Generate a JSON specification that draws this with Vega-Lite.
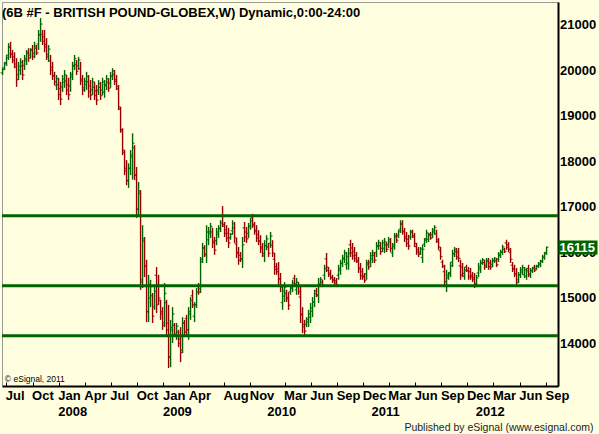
{
  "$schema": "https://vega.github.io/schema/vega-lite/v6.json",
  "width": 556,
  "height": 384,
  "autosize": {"type": "none"},
  "padding": {"left": 2, "top": 2, "right": 41, "bottom": 48},
  "background": "#FFFFE0",
  "config": {"view": {"stroke": "#9A9A9A", "strokeWidth": 1, "fill": "#FFFFE0"}, "font": "Liberation Sans"},
  "title": {"text": "(6B #F - BRITISH POUND-GLOBEX,W) Dynamic,0:00-24:00", "anchor": "start", "frame": "group", "orient": "top", "offset": -28, "baseline": "alphabetic", "fontSize": 13, "fontWeight": "bold", "font": "Liberation Sans", "color": "#000000"},
  "resolve": {"axis": {"y": "independent"}},
  "datasets": {
    "levels": [{"v": 16810}, {"v": 15270}, {"v": 14170}],
    "last": [{"v": 16115}],
    "bars": [
{"d":"2007-06-18","o":19950,"h":20060,"l":19900,"c":20020},
{"d":"2007-06-25","o":20060,"h":20190,"l":20010,"c":20150},
{"d":"2007-07-02","o":20170,"h":20340,"l":20100,"c":20280},
{"d":"2007-07-09","o":20340,"h":20600,"l":20230,"c":20510},
{"d":"2007-07-16","o":20520,"h":20630,"l":20270,"c":20360},
{"d":"2007-07-23","o":20360,"h":20450,"l":20160,"c":20230},
{"d":"2007-07-30","o":20300,"h":20400,"l":20050,"c":20140},
{"d":"2007-08-06","o":20080,"h":20270,"l":19640,"c":19800},
{"d":"2007-08-13","o":19910,"h":20190,"l":19790,"c":20090},
{"d":"2007-08-20","o":20010,"h":20270,"l":19900,"c":20180},
{"d":"2007-08-27","o":20100,"h":20230,"l":19790,"c":19900},
{"d":"2007-09-03","o":20110,"h":20340,"l":20010,"c":20260},
{"d":"2007-09-10","o":20220,"h":20450,"l":20120,"c":20370},
{"d":"2007-09-17","o":20400,"h":20490,"l":20190,"c":20270},
{"d":"2007-09-24","o":20340,"h":20490,"l":20270,"c":20440},
{"d":"2007-10-01","o":20460,"h":20560,"l":20230,"c":20310},
{"d":"2007-10-08","o":20380,"h":20630,"l":20270,"c":20540},
{"d":"2007-10-15","o":20490,"h":20560,"l":20340,"c":20390},
{"d":"2007-10-22","o":20580,"h":20890,"l":20450,"c":20780},
{"d":"2007-10-29","o":20790,"h":21150,"l":20630,"c":21020},
{"d":"2007-11-05","o":20790,"h":20890,"l":20560,"c":20640},
{"d":"2007-11-12","o":20740,"h":20890,"l":20400,"c":20520},
{"d":"2007-11-19","o":20570,"h":20710,"l":20230,"c":20350},
{"d":"2007-11-26","o":20300,"h":20560,"l":20190,"c":20470},
{"d":"2007-12-03","o":20210,"h":20340,"l":19900,"c":20010},
{"d":"2007-12-10","o":20070,"h":20190,"l":19790,"c":19890},
{"d":"2007-12-17","o":19880,"h":19970,"l":19680,"c":19750},
{"d":"2007-12-24","o":19670,"h":19900,"l":19570,"c":19820},
{"d":"2007-12-31","o":19690,"h":19840,"l":19350,"c":19470},
{"d":"2008-01-07","o":19600,"h":19750,"l":19240,"c":19370},
{"d":"2008-01-14","o":19640,"h":19900,"l":19530,"c":19810},
{"d":"2008-01-21","o":19740,"h":20010,"l":19620,"c":19910},
{"d":"2008-01-28","o":19770,"h":19900,"l":19460,"c":19570},
{"d":"2008-02-04","o":19690,"h":19840,"l":19350,"c":19470},
{"d":"2008-02-11","o":19660,"h":19970,"l":19530,"c":19860},
{"d":"2008-02-18","o":19910,"h":20190,"l":19790,"c":20090},
{"d":"2008-02-25","o":20110,"h":20340,"l":20010,"c":20260},
{"d":"2008-03-03","o":20130,"h":20230,"l":19900,"c":19980},
{"d":"2008-03-10","o":20100,"h":20300,"l":20010,"c":20230},
{"d":"2008-03-17","o":20040,"h":20190,"l":19680,"c":19810},
{"d":"2008-03-24","o":19770,"h":19900,"l":19460,"c":19570},
{"d":"2008-03-31","o":19620,"h":19840,"l":19530,"c":19760},
{"d":"2008-04-07","o":19690,"h":19970,"l":19570,"c":19870},
{"d":"2008-04-14","o":19750,"h":19900,"l":19400,"c":19530},
{"d":"2008-04-21","o":19660,"h":19790,"l":19350,"c":19460},
{"d":"2008-04-28","o":19570,"h":19840,"l":19460,"c":19750},
{"d":"2008-05-05","o":19630,"h":19750,"l":19350,"c":19450},
{"d":"2008-05-12","o":19550,"h":19680,"l":19240,"c":19350},
{"d":"2008-05-19","o":19560,"h":19790,"l":19460,"c":19710},
{"d":"2008-05-26","o":19630,"h":19750,"l":19350,"c":19450},
{"d":"2008-06-02","o":19570,"h":19840,"l":19460,"c":19750},
{"d":"2008-06-09","o":19520,"h":19790,"l":19400,"c":19690},
{"d":"2008-06-16","o":19670,"h":19900,"l":19570,"c":19820},
{"d":"2008-06-23","o":19740,"h":19830,"l":19530,"c":19610},
{"d":"2008-06-30","o":19720,"h":19970,"l":19620,"c":19880},
{"d":"2008-07-07","o":19870,"h":20050,"l":19790,"c":19990},
{"d":"2008-07-14","o":19910,"h":20010,"l":19680,"c":19760},
{"d":"2008-07-21","o":19800,"h":19900,"l":19570,"c":19650},
{"d":"2008-07-28","o":19600,"h":19680,"l":19130,"c":19200},
{"d":"2008-08-04","o":19150,"h":19200,"l":18630,"c":18700},
{"d":"2008-08-11","o":18680,"h":18730,"l":18140,"c":18250},
{"d":"2008-08-18","o":18200,"h":18250,"l":17700,"c":17800},
{"d":"2008-08-25","o":17850,"h":18030,"l":17480,"c":17580},
{"d":"2008-09-01","o":17580,"h":17960,"l":17420,"c":17850},
{"d":"2008-09-08","o":17850,"h":18250,"l":17700,"c":18150},
{"d":"2008-09-15","o":18100,"h":18620,"l":17600,"c":18400},
{"d":"2008-09-22","o":18300,"h":18360,"l":17590,"c":17700},
{"d":"2008-09-29","o":17700,"h":17880,"l":16760,"c":16950},
{"d":"2008-10-06","o":16950,"h":17550,"l":16780,"c":17350},
{"d":"2008-10-13","o":17300,"h":17370,"l":15180,"c":15350},
{"d":"2008-10-20","o":15400,"h":16600,"l":15220,"c":16300},
{"d":"2008-10-27","o":16250,"h":16340,"l":15460,"c":15700},
{"d":"2008-11-03","o":15700,"h":15840,"l":14470,"c":14700},
{"d":"2008-11-10","o":14700,"h":15510,"l":14470,"c":15300},
{"d":"2008-11-17","o":15000,"h":15400,"l":14800,"c":15250},
{"d":"2008-11-24","o":15050,"h":15110,"l":14450,"c":14600},
{"d":"2008-12-01","o":14800,"h":15290,"l":14740,"c":15150},
{"d":"2008-12-08","o":15500,"h":15680,"l":14670,"c":14850},
{"d":"2008-12-15","o":15300,"h":15510,"l":14850,"c":15000},
{"d":"2008-12-22","o":14950,"h":14960,"l":14520,"c":14650},
{"d":"2008-12-29","o":14700,"h":14800,"l":14300,"c":14400},
{"d":"2009-01-05","o":14450,"h":15330,"l":14360,"c":15100},
{"d":"2009-01-12","o":14900,"h":14960,"l":14140,"c":14300},
{"d":"2009-01-19","o":14450,"h":14850,"l":13460,"c":13700},
{"d":"2009-01-26","o":13700,"h":14520,"l":13480,"c":14350},
{"d":"2009-02-02","o":14300,"h":14800,"l":14010,"c":14650},
{"d":"2009-02-09","o":14400,"h":14450,"l":14140,"c":14200},
{"d":"2009-02-16","o":14200,"h":14450,"l":14080,"c":14380},
{"d":"2009-02-23","o":14250,"h":14300,"l":13920,"c":14000},
{"d":"2009-03-02","o":14100,"h":14360,"l":13590,"c":13800},
{"d":"2009-03-09","o":13850,"h":14580,"l":13790,"c":14450},
{"d":"2009-03-16","o":14450,"h":14520,"l":14140,"c":14250},
{"d":"2009-03-23","o":14550,"h":14630,"l":14190,"c":14300},
{"d":"2009-03-30","o":14300,"h":14800,"l":14080,"c":14700},
{"d":"2009-04-06","o":14650,"h":15020,"l":14520,"c":14950},
{"d":"2009-04-13","o":15050,"h":15180,"l":14780,"c":14850},
{"d":"2009-04-20","o":14600,"h":14910,"l":14470,"c":14850},
{"d":"2009-04-27","o":14860,"h":15220,"l":14780,"c":15130},
{"d":"2009-05-04","o":15250,"h":15330,"l":15070,"c":15130},
{"d":"2009-05-11","o":15200,"h":15900,"l":15110,"c":15800},
{"d":"2009-05-18","o":15850,"h":16210,"l":15770,"c":16100},
{"d":"2009-05-25","o":16100,"h":16160,"l":15900,"c":15960},
{"d":"2009-06-01","o":15950,"h":16600,"l":15770,"c":16450},
{"d":"2009-06-08","o":16280,"h":16560,"l":16160,"c":16460},
{"d":"2009-06-15","o":16420,"h":16650,"l":16320,"c":16570},
{"d":"2009-06-22","o":16450,"h":16540,"l":16100,"c":16210},
{"d":"2009-06-29","o":16250,"h":16340,"l":15950,"c":16050},
{"d":"2009-07-06","o":16260,"h":16540,"l":16160,"c":16450},
{"d":"2009-07-13","o":16400,"h":16600,"l":16320,"c":16530},
{"d":"2009-07-20","o":16520,"h":16710,"l":16450,"c":16650},
{"d":"2009-07-27","o":16800,"h":17020,"l":16560,"c":16620},
{"d":"2009-08-03","o":16580,"h":16670,"l":16340,"c":16420},
{"d":"2009-08-10","o":16500,"h":16600,"l":16230,"c":16320},
{"d":"2009-08-17","o":16420,"h":16540,"l":16100,"c":16210},
{"d":"2009-08-24","o":16320,"h":16430,"l":16280,"c":16400},
{"d":"2009-08-31","o":16480,"h":16710,"l":16390,"c":16630},
{"d":"2009-09-07","o":16540,"h":16670,"l":16210,"c":16330},
{"d":"2009-09-14","o":16190,"h":16320,"l":15880,"c":15990},
{"d":"2009-09-21","o":16000,"h":16120,"l":15730,"c":15830},
{"d":"2009-09-28","o":15940,"h":16010,"l":15790,"c":15850},
{"d":"2009-10-05","o":15860,"h":16340,"l":15660,"c":16170},
{"d":"2009-10-12","o":16540,"h":16670,"l":16230,"c":16340},
{"d":"2009-10-19","o":16450,"h":16560,"l":16210,"c":16300},
{"d":"2009-10-26","o":16420,"h":16650,"l":16320,"c":16570},
{"d":"2009-11-02","o":16580,"h":16760,"l":16500,"c":16690},
{"d":"2009-11-09","o":16760,"h":16850,"l":16540,"c":16620},
{"d":"2009-11-16","o":16590,"h":16670,"l":16390,"c":16460},
{"d":"2009-11-23","o":16490,"h":16600,"l":16230,"c":16320},
{"d":"2009-11-30","o":16390,"h":16490,"l":16160,"c":16240},
{"d":"2009-12-07","o":16260,"h":16380,"l":15990,"c":16090},
{"d":"2009-12-14","o":16120,"h":16210,"l":15900,"c":15980},
{"d":"2009-12-21","o":15930,"h":16270,"l":15790,"c":16150},
{"d":"2009-12-28","o":16150,"h":16380,"l":16050,"c":16300},
{"d":"2010-01-04","o":16120,"h":16210,"l":15900,"c":15980},
{"d":"2010-01-11","o":16200,"h":16450,"l":16100,"c":16360},
{"d":"2010-01-18","o":16160,"h":16270,"l":15900,"c":15990},
{"d":"2010-01-25","o":15850,"h":15990,"l":15510,"c":15630},
{"d":"2010-02-01","o":15690,"h":15770,"l":15510,"c":15580},
{"d":"2010-02-08","o":15640,"h":15790,"l":15290,"c":15420},
{"d":"2010-02-15","o":15420,"h":15550,"l":15130,"c":15240},
{"d":"2010-02-22","o":14900,"h":15290,"l":14740,"c":15150},
{"d":"2010-03-01","o":15040,"h":15350,"l":14910,"c":15240},
{"d":"2010-03-08","o":15100,"h":15180,"l":14910,"c":14980},
{"d":"2010-03-15","o":15010,"h":15130,"l":14740,"c":14840},
{"d":"2010-03-22","o":15140,"h":15290,"l":15070,"c":15240},
{"d":"2010-03-29","o":15210,"h":15400,"l":15130,"c":15330},
{"d":"2010-04-05","o":15430,"h":15510,"l":15240,"c":15310},
{"d":"2010-04-12","o":15180,"h":15440,"l":15070,"c":15350},
{"d":"2010-04-19","o":15270,"h":15350,"l":15070,"c":15140},
{"d":"2010-04-26","o":15020,"h":15264,"l":14450,"c":14650},
{"d":"2010-05-03","o":14630,"h":14800,"l":14230,"c":14370},
{"d":"2010-05-10","o":14420,"h":14520,"l":14190,"c":14270},
{"d":"2010-05-17","o":14420,"h":14580,"l":14360,"c":14530},
{"d":"2010-05-24","o":14470,"h":14740,"l":14360,"c":14650},
{"d":"2010-05-31","o":14580,"h":14890,"l":14450,"c":14780},
{"d":"2010-06-07","o":14710,"h":15020,"l":14580,"c":14910},
{"d":"2010-06-14","o":14910,"h":15180,"l":14800,"c":15090},
{"d":"2010-06-21","o":15160,"h":15220,"l":15020,"c":15070},
{"d":"2010-06-28","o":15050,"h":15440,"l":14890,"c":15300},
{"d":"2010-07-05","o":15310,"h":15460,"l":15240,"c":15410},
{"d":"2010-07-12","o":15350,"h":15400,"l":15240,"c":15280},
{"d":"2010-07-19","o":15500,"h":15730,"l":15400,"c":15650},
{"d":"2010-07-26","o":15860,"h":15990,"l":15570,"c":15680},
{"d":"2010-08-02","o":15610,"h":15680,"l":15460,"c":15510},
{"d":"2010-08-09","o":15550,"h":15620,"l":15400,"c":15450},
{"d":"2010-08-16","o":15450,"h":15510,"l":15330,"c":15380},
{"d":"2010-08-23","o":15410,"h":15460,"l":15290,"c":15330},
{"d":"2010-08-30","o":15380,"h":15440,"l":15240,"c":15290},
{"d":"2010-09-06","o":15500,"h":15730,"l":15400,"c":15650},
{"d":"2010-09-13","o":15610,"h":15840,"l":15510,"c":15760},
{"d":"2010-09-20","o":15760,"h":15950,"l":15680,"c":15880},
{"d":"2010-09-27","o":15860,"h":16060,"l":15770,"c":15990},
{"d":"2010-10-04","o":15740,"h":16010,"l":15620,"c":15910},
{"d":"2010-10-11","o":15760,"h":16100,"l":15620,"c":15980},
{"d":"2010-10-18","o":16170,"h":16280,"l":15900,"c":15990},
{"d":"2010-10-25","o":16100,"h":16210,"l":15840,"c":15930},
{"d":"2010-11-01","o":16020,"h":16120,"l":15790,"c":15870},
{"d":"2010-11-08","o":15940,"h":16010,"l":15770,"c":15830},
{"d":"2010-11-15","o":15800,"h":15900,"l":15550,"c":15640},
{"d":"2010-11-22","o":15660,"h":15770,"l":15400,"c":15490},
{"d":"2010-11-29","o":15580,"h":15660,"l":15400,"c":15460},
{"d":"2010-12-06","o":15480,"h":15550,"l":15330,"c":15390},
{"d":"2010-12-13","o":15530,"h":15840,"l":15400,"c":15730},
{"d":"2010-12-20","o":15770,"h":15840,"l":15620,"c":15680},
{"d":"2010-12-27","o":15780,"h":16010,"l":15680,"c":15930},
{"d":"2011-01-03","o":15860,"h":16060,"l":15770,"c":15990},
{"d":"2011-01-10","o":15940,"h":16010,"l":15770,"c":15830},
{"d":"2011-01-17","o":16000,"h":16230,"l":15900,"c":16150},
{"d":"2011-01-24","o":16130,"h":16280,"l":16060,"c":16220},
{"d":"2011-01-31","o":16150,"h":16230,"l":15950,"c":16020},
{"d":"2011-02-07","o":16090,"h":16280,"l":16010,"c":16210},
{"d":"2011-02-14","o":16090,"h":16320,"l":15990,"c":16240},
{"d":"2011-02-21","o":16170,"h":16230,"l":16010,"c":16070},
{"d":"2011-02-28","o":16170,"h":16340,"l":16100,"c":16280},
{"d":"2011-03-07","o":16230,"h":16320,"l":16010,"c":16090},
{"d":"2011-03-14","o":15990,"h":16210,"l":15900,"c":16130},
{"d":"2011-03-21","o":16170,"h":16430,"l":16060,"c":16340},
{"d":"2011-03-28","o":16370,"h":16430,"l":16210,"c":16270},
{"d":"2011-04-04","o":16370,"h":16500,"l":16320,"c":16460},
{"d":"2011-04-11","o":16510,"h":16710,"l":16430,"c":16640},
{"d":"2011-04-18","o":16620,"h":16710,"l":16390,"c":16470},
{"d":"2011-04-25","o":16450,"h":16540,"l":16230,"c":16310},
{"d":"2011-05-02","o":16350,"h":16450,"l":16120,"c":16200},
{"d":"2011-05-09","o":16290,"h":16390,"l":16060,"c":16140},
{"d":"2011-05-16","o":16340,"h":16500,"l":16280,"c":16450},
{"d":"2011-05-23","o":16450,"h":16500,"l":16320,"c":16370},
{"d":"2011-05-30","o":16340,"h":16430,"l":16120,"c":16200},
{"d":"2011-06-06","o":16130,"h":16210,"l":15950,"c":16010},
{"d":"2011-06-13","o":16060,"h":16120,"l":15900,"c":15960},
{"d":"2011-06-20","o":16000,"h":16120,"l":15950,"c":16080},
{"d":"2011-06-27","o":15890,"h":16170,"l":15770,"c":16070},
{"d":"2011-07-04","o":16180,"h":16320,"l":16120,"c":16270},
{"d":"2011-07-11","o":16300,"h":16500,"l":16210,"c":16430},
{"d":"2011-07-18","o":16290,"h":16430,"l":16230,"c":16380},
{"d":"2011-07-25","o":16400,"h":16450,"l":16280,"c":16320},
{"d":"2011-08-01","o":16390,"h":16540,"l":16320,"c":16490},
{"d":"2011-08-08","o":16450,"h":16600,"l":16390,"c":16550},
{"d":"2011-08-15","o":16410,"h":16500,"l":16210,"c":16280},
{"d":"2011-08-22","o":16240,"h":16320,"l":16060,"c":16120},
{"d":"2011-08-29","o":16040,"h":16120,"l":15840,"c":15910},
{"d":"2011-09-05","o":15790,"h":15840,"l":15660,"c":15700},
{"d":"2011-09-12","o":15580,"h":15730,"l":15240,"c":15360},
{"d":"2011-09-19","o":15280,"h":15620,"l":15130,"c":15500},
{"d":"2011-09-26","o":15450,"h":15570,"l":15400,"c":15530},
{"d":"2011-10-03","o":15560,"h":15790,"l":15460,"c":15710},
{"d":"2011-10-10","o":15790,"h":16060,"l":15680,"c":15970},
{"d":"2011-10-17","o":15970,"h":16120,"l":15900,"c":16070},
{"d":"2011-10-24","o":16020,"h":16100,"l":15840,"c":15900},
{"d":"2011-10-31","o":16010,"h":16100,"l":15790,"c":15870},
{"d":"2011-11-07","o":15710,"h":15840,"l":15400,"c":15510},
{"d":"2011-11-14","o":15680,"h":15770,"l":15460,"c":15540},
{"d":"2011-11-21","o":15480,"h":15680,"l":15400,"c":15610},
{"d":"2011-11-28","o":15680,"h":15730,"l":15570,"c":15610},
{"d":"2011-12-05","o":15600,"h":15680,"l":15400,"c":15470},
{"d":"2011-12-12","o":15580,"h":15660,"l":15400,"c":15460},
{"d":"2011-12-19","o":15500,"h":15570,"l":15350,"c":15410},
{"d":"2011-12-26","o":15450,"h":15550,"l":15220,"c":15300},
{"d":"2012-01-02","o":15320,"h":15510,"l":15240,"c":15440},
{"d":"2012-01-09","o":15550,"h":15770,"l":15460,"c":15690},
{"d":"2012-01-16","o":15640,"h":15840,"l":15550,"c":15770},
{"d":"2012-01-23","o":15770,"h":15880,"l":15730,"c":15840},
{"d":"2012-01-30","o":15780,"h":15840,"l":15620,"c":15680},
{"d":"2012-02-06","o":15720,"h":15880,"l":15660,"c":15830},
{"d":"2012-02-13","o":15800,"h":15880,"l":15620,"c":15690},
{"d":"2012-02-20","o":15770,"h":15840,"l":15620,"c":15680},
{"d":"2012-02-27","o":15740,"h":15880,"l":15680,"c":15830},
{"d":"2012-03-05","o":15810,"h":15900,"l":15770,"c":15870},
{"d":"2012-03-12","o":15820,"h":15880,"l":15680,"c":15730},
{"d":"2012-03-19","o":15850,"h":16010,"l":15790,"c":15960},
{"d":"2012-03-26","o":15930,"h":16060,"l":15880,"c":16010},
{"d":"2012-04-02","o":16010,"h":16170,"l":15950,"c":16120},
{"d":"2012-04-09","o":16070,"h":16100,"l":15990,"c":16020},
{"d":"2012-04-16","o":16210,"h":16280,"l":16060,"c":16110},
{"d":"2012-04-23","o":16170,"h":16230,"l":16010,"c":16070},
{"d":"2012-04-30","o":16000,"h":16100,"l":15770,"c":15850},
{"d":"2012-05-07","o":15720,"h":15790,"l":15570,"c":15630},
{"d":"2012-05-14","o":15650,"h":15730,"l":15460,"c":15530},
{"d":"2012-05-21","o":15530,"h":15660,"l":15240,"c":15340},
{"d":"2012-05-28","o":15400,"h":15570,"l":15330,"c":15510},
{"d":"2012-06-04","o":15510,"h":15680,"l":15440,"c":15620},
{"d":"2012-06-11","o":15570,"h":15730,"l":15510,"c":15670},
{"d":"2012-06-18","o":15510,"h":15680,"l":15440,"c":15620},
{"d":"2012-06-25","o":15480,"h":15660,"l":15400,"c":15600},
{"d":"2012-07-02","o":15650,"h":15730,"l":15460,"c":15530},
{"d":"2012-07-09","o":15510,"h":15660,"l":15440,"c":15610},
{"d":"2012-07-16","o":15590,"h":15680,"l":15550,"c":15650},
{"d":"2012-07-23","o":15680,"h":15730,"l":15570,"c":15610},
{"d":"2012-07-30","o":15650,"h":15730,"l":15620,"c":15700},
{"d":"2012-08-06","o":15700,"h":15790,"l":15660,"c":15760},
{"d":"2012-08-13","o":15730,"h":15840,"l":15680,"c":15800},
{"d":"2012-08-20","o":15820,"h":15950,"l":15770,"c":15900},
{"d":"2012-08-27","o":15890,"h":16010,"l":15840,"c":15970},
{"d":"2012-09-03","o":16000,"h":16130,"l":15950,"c":16115}
    ]
  },
  "layer": [
    {
      "data": {"name": "bars"},
      "mark": {"type": "rule", "strokeWidth": 1.4},
      "encoding": {
        "x": {
          "field": "d", "type": "temporal",
          "scale": {"type": "utc", "domain": [{"year": 2007, "month": 6, "date": 16, "utc": true}, {"year": 2012, "month": 10, "date": 13, "utc": true}], "nice": false},
          "axis": {
            "values": [
              {"year": 2007, "month": 7, "date": 1, "utc": true},
              {"year": 2007, "month": 10, "date": 1, "utc": true},
              {"year": 2008, "month": 1, "date": 1, "utc": true},
              {"year": 2008, "month": 4, "date": 1, "utc": true},
              {"year": 2008, "month": 7, "date": 1, "utc": true},
              {"year": 2008, "month": 10, "date": 1, "utc": true},
              {"year": 2009, "month": 1, "date": 1, "utc": true},
              {"year": 2009, "month": 4, "date": 1, "utc": true},
              {"year": 2009, "month": 8, "date": 1, "utc": true},
              {"year": 2009, "month": 11, "date": 1, "utc": true},
              {"year": 2010, "month": 1, "date": 1, "utc": true},
              {"year": 2010, "month": 3, "date": 1, "utc": true},
              {"year": 2010, "month": 6, "date": 1, "utc": true},
              {"year": 2010, "month": 9, "date": 1, "utc": true},
              {"year": 2010, "month": 12, "date": 1, "utc": true},
              {"year": 2011, "month": 1, "date": 1, "utc": true},
              {"year": 2011, "month": 3, "date": 1, "utc": true},
              {"year": 2011, "month": 6, "date": 1, "utc": true},
              {"year": 2011, "month": 9, "date": 1, "utc": true},
              {"year": 2011, "month": 12, "date": 1, "utc": true},
              {"year": 2012, "month": 1, "date": 1, "utc": true},
              {"year": 2012, "month": 3, "date": 1, "utc": true},
              {"year": 2012, "month": 6, "date": 1, "utc": true},
              {"year": 2012, "month": 9, "date": 1, "utc": true}
            ],
            "tickCount": 60,
            "labelExpr": "utcmonth(datum.value) == 0 ? (utcyear(datum.value) < 2010 ? ['Jan', utcFormat(datum.value, '%Y')] : [' ', utcFormat(datum.value, '%Y')]) : utcFormat(datum.value, '%b')",
            "labelAlign": "left",
            "labelBaseline": "top",
            "labelFont": "Liberation Sans",
            "labelFontSize": 13,
            "labelFontWeight": "bold",
            "labelColor": "#000000",
            "labelPadding": 7,
            "labelLineHeight": 16,
            "labelOverlap": false,
            "labelFlush": false,
            "labelOffset": -1,
            "tickSize": -4,
            "tickColor": {"condition": {"test": "utcmonth(datum.value) == 0 && utcyear(datum.value) >= 2010", "value": "transparent"}, "value": "#000000"},
            "domainColor": "#000000",
            "domainWidth": 2,
            "grid": false,
            "title": "Published by eSignal (www.esignal.com)",
            "titleX": 591,
            "titleY": 44,
            "titleAlign": "right",
            "titleBaseline": "alphabetic",
            "titleFont": "Liberation Sans",
            "titleFontSize": 10.5,
            "titleFontWeight": "normal",
            "titleColor": "#222222"
          }
        },
        "y": {
          "field": "l", "type": "quantitative",
          "scale": {"domain": [13066, 21505], "nice": false, "zero": false},
          "axis": {
            "orient": "right",
            "values": [14000, 15000, 16000, 17000, 18000, 19000, 20000, 21000],
            "tickCount": 20,
            "format": "d",
            "labelFont": "Liberation Sans",
            "labelFontSize": 13,
            "labelFontWeight": "bold",
            "labelColor": "#000000",
            "labelAlign": "left",
            "labelBaseline": "middle",
            "labelPadding": 1.5,
            "labelOverlap": false,
            "ticks": false,
            "domainColor": "#000000",
            "domainWidth": 2,
            "grid": false,
            "title": null
          }
        },
        "y2": {"field": "h"},
        "color": {"condition": {"test": "datum.c >= datum.o", "value": "#006400"}, "value": "#960000"}
      }
    },
    {
      "data": {"name": "bars"},
      "mark": {"type": "tick", "orient": "horizontal", "size": 2, "thickness": 1.4, "xOffset": -1},
      "encoding": {
        "x": {"field": "d", "type": "temporal"},
        "y": {"field": "o", "type": "quantitative", "axis": null},
        "color": {"condition": {"test": "datum.c >= datum.o", "value": "#006400"}, "value": "#960000"}
      }
    },
    {
      "data": {"name": "bars"},
      "mark": {"type": "tick", "orient": "horizontal", "size": 2, "thickness": 1.4, "xOffset": 1},
      "encoding": {
        "x": {"field": "d", "type": "temporal"},
        "y": {"field": "c", "type": "quantitative", "axis": null},
        "color": {"condition": {"test": "datum.c >= datum.o", "value": "#006400"}, "value": "#960000"}
      }
    },
    {
      "data": {"name": "levels"},
      "mark": {"type": "rule", "color": "#006400", "strokeWidth": 3},
      "encoding": {"y": {"field": "v", "type": "quantitative", "axis": null}}
    },
    {
      "data": {"values": [{}]},
      "mark": {"type": "text", "text": "© eSignal, 2011", "align": "left", "baseline": "alphabetic", "font": "Liberation Sans", "fontSize": 8.5, "color": "#000000"},
      "encoding": {
        "x": {"datum": {"year": 2007, "month": 6, "date": 26, "utc": true}, "type": "temporal"},
        "y": {"datum": 13154, "type": "quantitative", "axis": null}
      }
    },
    {
      "data": {"name": "last"},
      "mark": {"type": "tick", "opacity": 0},
      "encoding": {
        "y": {
          "field": "v", "type": "quantitative",
          "axis": {
            "orient": "right",
            "values": [16115],
            "format": "d",
            "domain": false,
            "grid": false,
            "ticks": true,
            "tickSize": 39,
            "tickWidth": 14,
            "tickColor": "#006400",
            "tickCap": "butt",
            "labelFont": "Liberation Sans",
            "labelFontSize": 13,
            "labelFontWeight": "bold",
            "labelColor": "#FFFFFF",
            "labelAlign": "left",
            "labelBaseline": "middle",
            "labelPadding": -38,
            "title": null,
            "zindex": 1
          }
        }
      }
    }
  ]
}
